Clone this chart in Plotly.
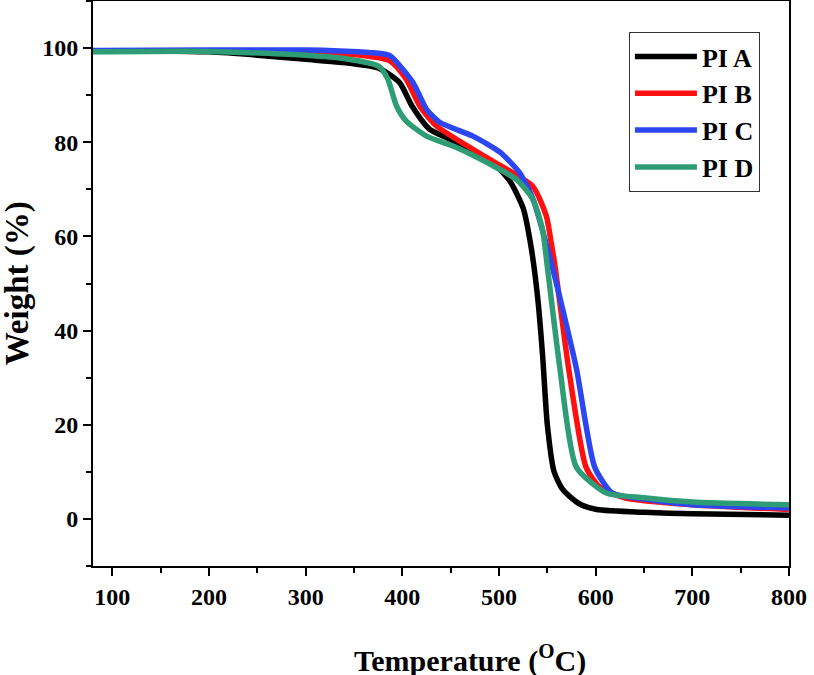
import plotly.graph_objects as go

# PI A (black)
t_a = [80, 150, 200, 250, 300, 335, 376, 397, 410, 428, 456, 497, 512, 525, 533, 540, 545, 550, 557, 565, 573, 585, 601, 650, 700, 800]
w_a = [99.4, 99.4, 99.2, 98.5, 97.6, 97.0, 95.7, 92.7, 87.7, 82.8, 80.0, 75.0, 71.5, 66.0, 58.0, 47.0, 35.0, 20.0, 10.0, 6.5, 4.8, 3.0, 2.0, 1.4, 1.1, 0.8]

# PI B (red)
t_b = [80, 200, 300, 335, 387, 404, 418, 435, 490, 535, 549, 554, 558, 572, 590, 604, 630, 700, 800]
w_b = [99.4, 99.4, 99.1, 98.9, 97.3, 93.4, 87.7, 83.5, 76.4, 70.6, 64.3, 58.7, 53.6, 32.0, 11.0, 6.8, 4.5, 3.0, 2.0]

# PI C (blue)
t_c = [80, 200, 300, 335, 370, 387, 411, 425, 439, 473, 501, 521, 535, 555, 580, 599, 617, 650, 700, 800]
w_c = [99.5, 99.6, 99.6, 99.4, 99.0, 98.4, 92.7, 87.0, 84.2, 81.3, 77.9, 73.6, 68.0, 53.6, 32.0, 11.0, 5.5, 4.2, 3.0, 2.3]

# PI D (green)
t_d = [80, 200, 300, 340, 376, 385, 394, 404, 425, 456, 494, 518, 535, 545, 550, 563, 580, 611, 650, 700, 800]
w_d = [99.2, 99.3, 98.5, 97.8, 96.1, 93.4, 87.7, 84.5, 81.3, 78.9, 75.0, 72.1, 67.9, 61.5, 53.6, 32.0, 11.0, 5.5, 4.5, 3.6, 3.0]

names = ["PI A", "PI B", "PI C", "PI D"]
colors = ["#000000", "#ff1010", "#2c46f2", "#2e9c74"]
series = [(t_a, w_a), (t_b, w_b), (t_c, w_c), (t_d, w_d)]

x_ticks = [100, 200, 300, 400, 500, 600, 700, 800]
y_ticks = [0, 20, 40, 60, 80, 100]

FONT = "Times New Roman, Liberation Serif, Times, serif"

fig = go.Figure()
for (t, w), name, col in zip(series, names, colors):
    fig.add_trace(go.Scatter(
        x=t, y=w, name=name, mode="lines",
        line=dict(color=col, width=5.5, shape="spline", smoothing=0.6),
    ))

fig.update_layout(
    width=814, height=675,
    margin=dict(l=93, r=25, t=1, b=109, autoexpand=False),
    plot_bgcolor="white", paper_bgcolor="white",
    font=dict(family=FONT, color="black", size=24, weight="bold"),
    showlegend=True,
    legend=dict(
        x=0.770, y=0.945, xanchor="left", yanchor="top",
        bordercolor="#333333", borderwidth=1, bgcolor="white",
        font=dict(family=FONT, size=26, color="black", weight="bold"),
        tracegroupgap=0, itemwidth=62,
    ),
    annotations=[
        dict(text="Temperature (<sup>O</sup>C)", xref="paper", yref="paper",
             x=0.542, y=-0.163, xanchor="center", yanchor="middle", showarrow=False,
             font=dict(family=FONT, size=30, color="black", weight="bold")),
        dict(text="Weight (%)", xref="paper", yref="paper",
             x=-0.108, y=0.5, xanchor="center", yanchor="middle", showarrow=False,
             textangle=-90,
             font=dict(family=FONT, size=33, color="black", weight="bold")),
    ],
)

fig.update_xaxes(
    range=[80, 800], tickvals=x_ticks, ticktext=[str(v) for v in x_ticks],
    ticks="outside", ticklen=8, tickwidth=2, tickcolor="black",
    showline=True, linewidth=2, linecolor="black", mirror=True,
    showgrid=False, zeroline=False, automargin=False,
    tickfont=dict(family=FONT, size=24, weight="bold"),
    minor=dict(ticks="outside", ticklen=5, tickwidth=2, tickcolor="black", dtick=50, tick0=0, showgrid=False),
)
fig.update_yaxes(
    range=[-10, 110], tickvals=y_ticks, ticktext=[str(v) for v in y_ticks],
    ticks="outside", ticklen=8, tickwidth=2, tickcolor="black",
    showline=True, linewidth=2, linecolor="black", mirror=True,
    showgrid=False, zeroline=False, automargin=False,
    tickfont=dict(family=FONT, size=24, weight="bold"),
    minor=dict(ticks="outside", ticklen=5, tickwidth=2, tickcolor="black", dtick=10, tick0=0, showgrid=False),
)

fig.write_html(
    "out.html",
    config={"displayModeBar": False},
    post_script="document.body.style.margin='0';document.body.style.overflow='hidden';",
)
